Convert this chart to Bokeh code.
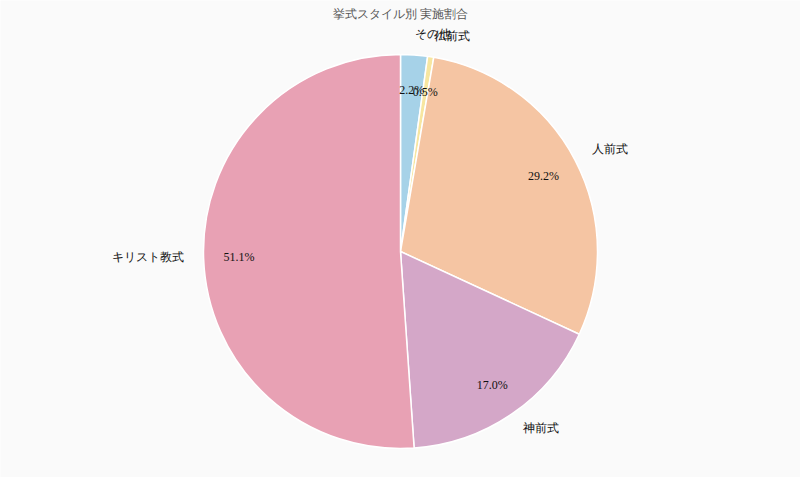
import numpy as np
from bokeh.plotting import figure
from bokeh.models import Range1d, ColumnDataSource
from bokeh.core.properties import value
from bokeh.embed import file_html
from bokeh.resources import INLINE

title = "挙式スタイル別 実施割合"
categories = ["その他", "仏前式", "人前式", "神前式", "キリスト教式"]
shares = [2.2, 0.5, 29.2, 17.0, 51.1]
colors = ["#a6d2e8", "#f7e6a0", "#f5c5a3", "#d4a7c8", "#e8a1b4"]

W, H = 800, 477
cx_px, cy_px = 400, 251  # pie center in figure pixels (from top-left)
R = 197

p = figure(width=W, height=H, output_backend="svg", toolbar_location=None,
           x_range=Range1d(-cx_px, W - cx_px), y_range=Range1d(-(H - cy_px), cy_px),
           min_border=0, background_fill_color="#fafafa", border_fill_color="#fafafa",
           outline_line_color=None)
p.axis.visible = False
p.grid.visible = False

vals = np.array(shares, dtype=float)
frac = vals / vals.sum()
cum = np.concatenate([[0], np.cumsum(frac)])
start = np.pi / 2 - 2 * np.pi * cum[:-1]
end = np.pi / 2 - 2 * np.pi * cum[1:]
mid = (start + end) / 2

src = ColumnDataSource(dict(start=start, end=end, color=colors))
p.wedge(x=0, y=0, radius=R, start_angle="start", end_angle="end", direction="clock",
        fill_color="color", line_color="white", line_width=1.5, source=src)

font = value("Liberation Serif")
lx = 1.1 * R * np.cos(mid)
ly = 1.1 * R * np.sin(mid) + 1.5
align = ["left" if x >= 0 else "right" for x in lx]
lsrc = ColumnDataSource(dict(x=lx, y=ly, t=categories, a=align))
p.text(x="x", y="y", text="t", text_align="a", text_baseline="middle",
       text_font=font, text_font_size="11.5px", text_color="#111111", source=lsrc)

px = 0.82 * R * np.cos(mid)
py = 0.82 * R * np.sin(mid)
pt = [f"{v:.1f}%" for v in shares]
psrc = ColumnDataSource(dict(x=px, y=py, t=pt))
p.text(x="x", y="y", text="t", text_align="center", text_baseline="middle",
       text_font=font, text_font_size="12px", text_color="#111111", source=psrc)

p.text(x=[0], y=[cy_px - 13], text=[title], text_align="center", text_baseline="middle",
       text_font=font, text_font_size="11.5px", text_color="#555555")

open("out.html", "w").write(file_html(p, INLINE))
